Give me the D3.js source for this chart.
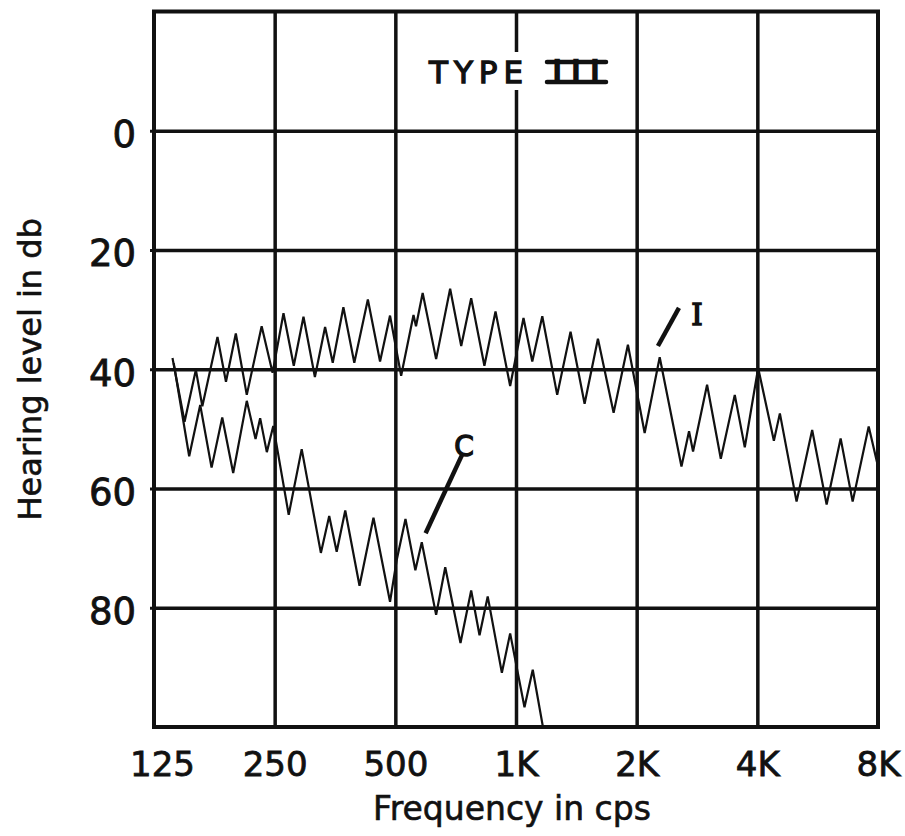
<!DOCTYPE html>
<html>
<head>
<meta charset="utf-8">
<script src="https://cdn.jsdelivr.net/npm/d3@7"></script>
<style>
  html, body { margin: 0; padding: 0; background: #fff; }
  text { font-family: "DejaVu Sans", sans-serif; fill: #111; }
</style>
</head>
<body>
<svg width="905" height="836"></svg>
<script>
// axis ticks
const freqTicks = [125, 250, 500, 1000, 2000, 4000, 8000];
const freqLabels = ['125', '250', '500', '1K', '2K', '4K', '8K'];
const levelTicks = [0, 20, 40, 60, 80];

// interrupted tone tracing (I)
const iFreq = [139, 149, 159, 165, 180, 189, 200, 213, 232, 247, 263, 279, 295, 315, 334, 349,
  371, 395, 427, 458, 485, 517, 555, 563, 585, 632, 685, 730, 773, 834, 889, 967, 1044, 1098,
  1163, 1267, 1368, 1483, 1601, 1752, 1902, 2094, 2283, 2587, 2702, 2765, 2997, 3243, 3514,
  3722, 4019, 4399, 4553, 5011, 5481, 5956, 6455, 6916, 7584, 8000];
const iLevel = [38.1, 48.8, 40.1, 46.2, 34.6, 42.1, 34.0, 44.3, 32.8, 40.6, 30.6, 39.4, 31.2, 41.3,
  32.9, 38.9, 29.6, 38.9, 28.3, 38.7, 31.0, 41.1, 30.9, 32.8, 27.2, 38.3, 26.5, 36.1, 28.1, 39.4,
  30.3, 42.8, 31.4, 38.7, 31.1, 44.3, 33.7, 45.8, 34.9, 47.3, 35.9, 50.7, 38.0, 56.3, 50.4, 53.8,
  42.6, 55.0, 44.3, 53.1, 39.8, 52.0, 47.4, 62.2, 50.2, 62.7, 51.6, 62.2, 49.6, 56.3];

// continuous tone tracing (C)
const cFreq = [140, 153, 163, 174, 185, 197, 213, 224, 230, 239, 248, 271, 292, 326, 342, 357,
  375, 407, 441, 485, 504, 530, 561, 582, 632, 666, 727, 773, 811, 850, 922, 967, 1050, 1101, 1171];
const cLevel = [39.0, 54.6, 46.0, 56.5, 48.1, 57.4, 45.3, 51.7, 48.2, 53.9, 49.5, 64.4, 53.4,
  70.8, 64.6, 70.6, 63.7, 76.3, 64.9, 79.0, 72.0, 65.1, 73.7, 69.0, 81.2, 73.2, 85.9, 77.1,
  84.6, 78.1, 90.9, 84.3, 96.7, 90.4, 100.5];

const plotLeft = 154, plotRight = 878, plotTop = 11.5, plotBottom = 727;

const x = d3.scaleLog().base(2).domain([125, 8000]).range([plotLeft, plotRight]);
const y = d3.scaleLinear().domain([-20, 100]).range([plotTop, plotBottom]);

const svg = d3.select('svg');

svg.append('defs').append('clipPath')
    .attr('id', 'plot')
  .append('rect')
    .attr('x', plotLeft).attr('y', plotTop)
    .attr('width', plotRight - plotLeft).attr('height', plotBottom - plotTop);

// vertical grid
svg.append('g')
    .attr('class', 'xgrid')
    .attr('transform', `translate(0,${plotBottom})`)
    .call(d3.axisBottom(x).tickValues(freqTicks.slice(1, -1)).tickSize(-(plotBottom - plotTop)).tickFormat(''))
    .call(g => g.select('.domain').remove())
    .call(g => g.selectAll('line').attr('stroke', '#111').attr('stroke-width', 3.5));

// horizontal grid
svg.append('g')
    .attr('class', 'ygrid')
    .attr('transform', `translate(${plotLeft},0)`)
    .call(d3.axisLeft(y).tickValues(levelTicks).tickSize(-(plotRight - plotLeft)).tickFormat(''))
    .call(g => g.select('.domain').remove())
    .call(g => g.selectAll('line').attr('stroke', '#111').attr('stroke-width', 3.5));

// small outward ticks on the left edge
svg.append('g')
    .attr('transform', `translate(${plotLeft},0)`)
    .call(d3.axisLeft(y).tickValues(levelTicks).tickSize(4).tickFormat(''))
    .call(g => g.select('.domain').remove())
    .call(g => g.selectAll('line').attr('stroke', '#111').attr('stroke-width', 3));

// frame
svg.append('rect')
    .attr('x', plotLeft).attr('y', plotTop)
    .attr('width', plotRight - plotLeft).attr('height', plotBottom - plotTop)
    .attr('fill', 'none')
    .attr('stroke', '#111')
    .attr('stroke-width', 4);

// tick labels
svg.append('g')
    .attr('transform', `translate(0,${plotBottom})`)
    .call(d3.axisBottom(x).tickValues(freqTicks).tickSize(0).tickPadding(0)
      .tickFormat((d, i) => freqLabels[i]))
    .call(g => g.select('.domain').remove())
    .call(g => g.selectAll('text')
      .attr('y', 49)
      .attr('dy', 0)
      .attr('dx', (d, i) => i === 0 ? 8 : 0)
      .attr('fill', '#111')
      .attr('stroke', '#111')
      .attr('stroke-width', 0.8)
      .style('font-family', '"DejaVu Sans", sans-serif')
      .style('font-size', '34px'));

svg.append('g')
    .attr('transform', `translate(${plotLeft},0)`)
    .call(d3.axisLeft(y).tickValues(levelTicks).tickSize(0).tickPadding(18)
      .tickFormat(d => d))
    .call(g => g.select('.domain').remove())
    .call(g => g.selectAll('text')
      .attr('dy', '0.43em')
      .attr('fill', '#111')
      .attr('stroke', '#111')
      .attr('stroke-width', 0.8)
      .style('font-family', '"DejaVu Sans", sans-serif')
      .style('font-size', '37px'));

// axis titles
svg.append('text')
    .attr('x', (plotLeft + plotRight) / 2 - 4)
    .attr('y', 820)
    .attr('text-anchor', 'middle')
    .attr('stroke', '#111').attr('stroke-width', 0.6)
    .style('font-size', '33px')
    .text('Frequency in cps');

svg.append('text')
    .attr('transform', `translate(41,${y(40)}) rotate(-90)`)
    .attr('text-anchor', 'middle')
    .attr('stroke', '#111').attr('stroke-width', 0.6)
    .style('font-size', '32px')
    .text('Hearing level in db');

// title, with a break in the 1K line behind it
svg.append('rect')
    .attr('x', x(1000) - 6).attr('y', 52)
    .attr('width', 12).attr('height', 38)
    .attr('fill', '#fff');

svg.append('text')
    .attr('x', 429)
    .attr('y', 83)
    .attr('stroke', '#111').attr('stroke-width', 1.3)
    .style('font-size', '31px')
    .style('letter-spacing', '6px')
    .text('TYPE');

const roman = svg.append('g').attr('class', 'roman');
roman.append('text')
    .attr('x', 576)
    .attr('y', 82)
    .attr('text-anchor', 'middle')
    .attr('stroke', '#111').attr('stroke-width', 2.4)
    .style('font-size', '30px')
    .style('letter-spacing', '10px')
    .attr('dx', 5)
    .text('III');
[62, 82].forEach(yy => {
  roman.append('line')
      .attr('x1', 547).attr('x2', 606)
      .attr('y1', yy).attr('y2', yy)
      .attr('stroke', '#111').attr('stroke-width', 4.5)
      .attr('stroke-linecap', 'round');
});

// tracings
const line = d3.line()
    .x(d => x(d[0]))
    .y(d => y(d[1]));

const traces = [
  d3.zip(iFreq, iLevel),
  d3.zip(cFreq, cLevel)
];

svg.append('g')
    .attr('clip-path', 'url(#plot)')
  .selectAll('path')
  .data(traces)
  .enter().append('path')
    .attr('d', line)
    .attr('fill', 'none')
    .attr('stroke', '#111')
    .attr('stroke-width', 2.2)
    .attr('stroke-linejoin', 'miter');

// curve labels with leader lines
svg.append('line')
    .attr('x1', x(2550)).attr('y1', y(29.7))
    .attr('x2', x(2260)).attr('y2', y(36.1))
    .attr('stroke', '#111').attr('stroke-width', 4.5);
svg.append('text')
    .attr('x', x(2830)).attr('y', y(32.6))
    .attr('text-anchor', 'middle')
    .attr('stroke', '#111').attr('stroke-width', 1.5)
    .style('font-family', '"DejaVu Serif", serif')
    .style('font-size', '29px')
    .text('I');

svg.append('line')
    .attr('x1', x(733)).attr('y1', y(54.4))
    .attr('x2', x(595)).attr('y2', y(67.5))
    .attr('stroke', '#111').attr('stroke-width', 4.5);
svg.append('text')
    .attr('x', x(742)).attr('y', y(54.6))
    .attr('text-anchor', 'middle')
    .attr('stroke', '#111').attr('stroke-width', 1.4)
    .style('font-size', '28px')
    .text('C');
</script>
</body>
</html>
